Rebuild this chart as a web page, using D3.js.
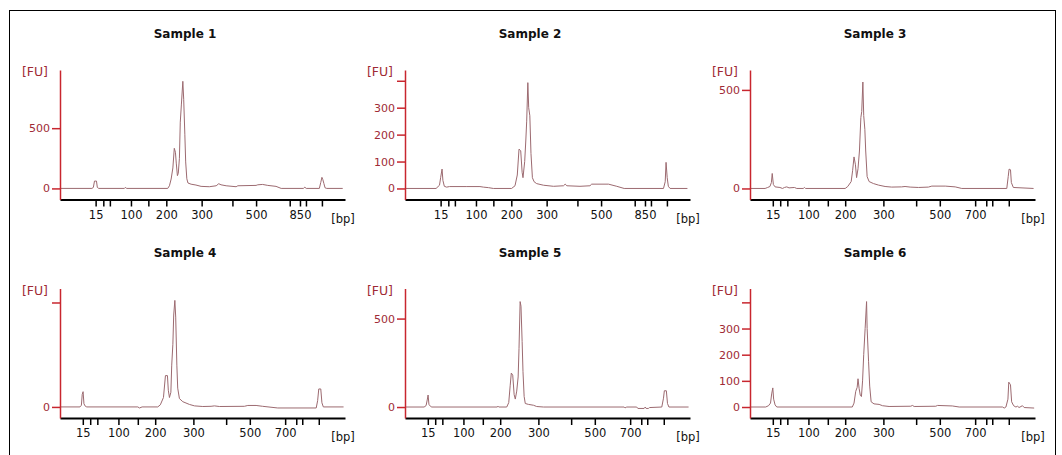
<!DOCTYPE html>
<html>
<head>
<meta charset="utf-8">
<script src="https://cdn.jsdelivr.net/npm/d3@7"></script>
<style>
  body { margin: 0; background: #fff; }
  svg { display: block; font-family: "DejaVu Sans", Verdana, sans-serif; }
</style>
</head>
<body>
<div id="chart"></div>
<script>
// ladder (bp) and where each ladder band runs on the chip, in seconds
const ladderSizes = [15, 25, 50, 100, 150, 200, 300, 400, 500, 700, 850, 1000, 1500];
const ladderTimesA = [32.5, 35.2, 37.5, 44.9, 51.0, 57.3, 69.7, 80.5, 88.8, 100.6, 104.2, 106.3, 111.9]; // samples 1-2
const ladderTimesB = [28.0, 30.6, 33.1, 40.5, 47.3, 53.4, 66.8, 78.3, 86.6, 99.0, 102.9, 105.0, 110.8]; // samples 3-6
const bpLabelsA = [15, 100, 200, 300, 500, 850];
const bpLabelsB = [15, 100, 200, 300, 500, 700];

const sampleNames = ["Sample 1", "Sample 2", "Sample 3", "Sample 4", "Sample 5", "Sample 6"];

// FU axis ticks, which ones get a label, and the visible FU range
const fuTicks = [[0, 500], [0, 100, 200, 300, 400], [0, 500], [0, 500], [0, 500], [0, 100, 200, 300, 400]];
const fuLabelled = [[0, 500], [0, 100, 200, 300], [0, 500], [0], [0, 500], [0, 100, 200, 300]];
const fuRanges = [[-92, 983], [-41, 440], [-56, 601], [-53, 567], [-62, 670], [-42, 453]];

// electropherograms: [time (s), FU]
const trace1 = [[20,0],[31.2,0],[31.7,8],[32.1,61],[32.8,61],[33.1,8],[33.6,0],[42.6,0],[42.9,8],[43.4,0],
  [57.8,0],[58.4,22],[59.0,78],[59.6,170],[60.1,333],[60.5,300],[60.8,210],[61.2,106],[61.5,125],[61.9,250],
  [62.2,550],[62.6,700],[63.1,889],[63.4,740],[63.8,450],[64.1,220],[64.5,80],[64.9,45],[66.0,35],[67.7,28],
  [69.5,17],[72.4,14],[74.8,22],[75.7,39],[76.5,30],[78.3,22],[81.8,14],[82.4,22],[88.8,25],[89.4,30],
  [91.1,33],[92.9,25],[95.8,17],[97.6,0],[105.4,0],[105.9,10],[106.4,0],[111.0,0],[111.5,50],[111.9,92],
  [112.2,75],[112.6,40],[113.0,5],[113.6,0],[119.2,0]];
const trace2 = [[20,0],[30.9,0],[32.1,12],[32.5,40],[33.0,72],[33.3,30],[33.8,8],[34.6,5],[35.6,7],[41.7,7],
  [46.3,7],[47.5,5],[49.3,3],[51.0,0],[57.4,0],[58.6,10],[59.4,50],[60.0,146],[60.6,140],[61.1,60],[61.4,40],
  [62.0,100],[62.4,180],[62.7,250],[63.1,393],[63.4,300],[63.8,270],[64.2,130],[64.7,40],[65.3,25],[66.2,18],
  [68.6,12],[72.1,8],[75.6,10],[76.2,16],[76.8,10],[81.4,8],[84.9,10],[85.5,16],[91.4,16],[94.3,8],[96.9,0],
  [110.7,0],[111.3,25],[111.6,97],[112.0,40],[112.4,8],[113.0,0],[119.1,0]];
const trace3 = [[20,0],[25.3,0],[26.2,5],[27.0,10],[27.5,30],[27.8,76],[28.2,20],[28.8,8],[30.5,5],[31.4,0],
  [32.1,5],[32.9,8],[33.7,3],[35.6,5],[36.4,0],[38.7,0],[39.1,5],[39.5,0],[53.4,0],[54.3,10],[55.5,35],
  [56.0,90],[56.5,160],[57.0,120],[57.4,55],[57.9,100],[58.4,190],[58.9,360],[59.2,390],[59.6,540],[59.9,370],
  [60.3,300],[60.6,190],[61.1,60],[61.8,35],[63.3,25],[65.1,17],[67.4,10],[69.7,7],[73.2,8],[74.4,10],[76.2,7],
  [79.1,5],[82.6,7],[83.8,12],[88.5,12],[92.0,8],[94.3,0],[110.1,0],[110.6,60],[110.9,98],[111.4,95],
  [111.7,30],[112.4,5],[119.5,0]];
const trace4 = [[20,0],[27.0,0],[27.5,8],[27.8,60],[28.1,73],[28.4,15],[28.9,3],[29.4,0],[47.3,0],[47.9,-5],
  [48.8,0],[54.3,0],[55.2,10],[56.3,45],[57.0,150],[57.7,150],[58.0,80],[58.4,45],[58.9,70],[59.2,200],
  [59.6,300],[59.9,440],[60.3,510],[60.6,430],[61.0,200],[61.3,90],[61.9,40],[63.1,25],[65.4,12],[67.2,5],
  [70.1,2],[73.0,3],[74.2,5],[75.9,2],[84.7,3],[85.9,7],[88.8,7],[91.1,3],[96.4,-5],[109.9,-5],[110.4,30],
  [110.8,86],[111.5,86],[111.9,20],[112.4,0],[119.5,0]];
const trace5 = [[20,0],[26.7,0],[27.4,8],[27.8,40],[28.1,68],[28.4,15],[29.0,3],[29.4,0],[52.4,0],[52.6,5],
  [52.9,0],[55.7,0],[56.4,25],[56.9,120],[57.3,192],[57.8,180],[58.3,70],[58.7,45],[59.2,90],[59.7,170],
  [60.0,330],[60.4,596],[60.7,570],[61.1,370],[61.4,200],[61.8,60],[62.2,20],[63.3,15],[65.1,10],[66.2,3],
  [68.6,0],[96.9,0],[97.2,-5],[97.8,0],[101.3,0],[101.7,-8],[103.9,-8],[104.3,0],[104.6,-8],[105.4,-8],
  [105.8,-3],[110.1,0],[110.7,50],[111.0,92],[111.7,92],[112.1,20],[112.6,0],[119.5,0]];
const trace6 = [[20,0],[25.5,0],[26.5,5],[27.2,15],[27.6,50],[28.0,73],[28.3,30],[28.8,8],[29.4,0],[55.9,0],
  [56.5,15],[57.1,60],[57.6,75],[57.9,108],[58.3,70],[58.7,45],[59.1,40],[59.5,100],[59.9,200],[60.4,300],
  [60.9,403],[61.1,300],[61.6,175],[62.0,80],[62.5,20],[63.5,12],[65.3,10],[66.5,5],[68.8,2],[76.4,3],
  [77.0,6],[77.6,2],[85.2,3],[85.8,6],[91.0,4],[93.4,0],[108.6,0],[109.2,-4],[109.8,0],[110.5,30],[110.8,95],
  [111.4,85],[111.8,20],[112.5,5],[113.3,0],[113.9,3],[114.4,-2],[115.6,5],[116.2,-2],[119.7,-4]];

const timeDomain = [20, 120];

// put the six panels together
const traces = [trace1, trace2, trace3, trace4, trace5, trace6];
const panels = sampleNames.map((name, i) => ({
    name: name,
    trace: traces[i],
    ladder: i < 2 ? ladderTimesA : ladderTimesB,
    bpLabels: i < 2 ? bpLabelsA : bpLabelsB,
    ticks: fuTicks[i],
    labelled: fuLabelled[i],
    range: fuRanges[i]
}));

const svgWidth = 1062;
const svgHeight = 455;
const plotWidth = 285;

const svg = d3.select("#chart")
    .append("svg")
    .attr("width", svgWidth)
    .attr("height", svgHeight);

svg.append("rect")
    .attr("x", 0).attr("y", 0)
    .attr("width", svgWidth).attr("height", svgHeight)
    .attr("fill", "#fff");

// outer frame
svg.append("rect")
    .attr("x", 9.5).attr("y", 10.5)
    .attr("width", 1046).attr("height", 470)
    .attr("fill", "none")
    .attr("stroke", "#000")
    .attr("stroke-width", 1);

const axisRed = "#c8262e";
const labelRed = "#a02a35";
const traceColor = "#9c6a70";

panels.forEach(function (p, i) {
    const col = i % 3;
    const row = Math.floor(i / 3);
    const left = 60 + col * 345;
    const top = 70 + row * 218.5;
    const bottom = top + 129.5;

    const g = svg.append("g");

    const x = d3.scaleLinear()
        .domain(timeDomain)
        .range([left, left + plotWidth]);

    const y = d3.scaleLinear()
        .domain(p.range)
        .range([bottom, top]);

    // title
    g.append("text")
        .text(p.name)
        .attr("x", left + 125)
        .attr("y", top - 32)
        .attr("text-anchor", "middle")
        .attr("font-size", "12px")
        .attr("font-weight", "bold")
        .attr("fill", "#111");

    // trace
    const line = d3.line()
        .x(d => x(d[0]))
        .y(d => y(d[1]));

    g.append("path")
        .datum(p.trace)
        .attr("d", line)
        .attr("fill", "none")
        .attr("stroke", traceColor)
        .attr("stroke-width", 1);

    // bp axis
    const xAxis = g.append("g")
        .attr("transform", `translate(0, ${bottom})`)
        .call(d3.axisBottom(x)
            .tickValues(p.ladder)
            .tickSize(7)
            .tickSizeOuter(0)
            .tickPadding(4)
            .tickFormat((d, k) => p.bpLabels.includes(ladderSizes[k]) ? ladderSizes[k] : ""));
    xAxis.select(".domain").attr("stroke", "#000").attr("stroke-width", 2);
    xAxis.selectAll(".tick line").attr("stroke", "#000").attr("stroke-width", 1.5);
    xAxis.selectAll(".tick text")
        .attr("font-size", "11.5px")
        .attr("font-family", "DejaVu Sans, Verdana, sans-serif")
        .attr("fill", "#111");

    g.append("text")
        .text("[bp]")
        .attr("x", left + plotWidth - 2)
        .attr("y", bottom + 23)
        .attr("text-anchor", "middle")
        .attr("font-size", "11.5px")
        .attr("fill", "#111");

    // FU axis
    const yAxis = g.append("g")
        .attr("transform", `translate(${left}, 0)`)
        .call(d3.axisLeft(y)
            .tickValues(p.ticks)
            .tickSize(8)
            .tickSizeOuter(0)
            .tickPadding(2)
            .tickFormat(d => p.labelled.includes(d) ? d : ""));
    yAxis.select(".domain").attr("stroke", axisRed).attr("stroke-width", 1.5);
    yAxis.selectAll(".tick line").attr("stroke", axisRed).attr("stroke-width", 1.5);
    yAxis.selectAll(".tick text")
        .attr("font-size", "11px")
        .attr("font-family", "DejaVu Sans, Verdana, sans-serif")
        .attr("fill", labelRed);

    g.append("text")
        .text("[FU]")
        .attr("x", left - 12)
        .attr("y", top + 6)
        .attr("text-anchor", "end")
        .attr("font-size", "12.5px")
        .attr("fill", labelRed);
});
</script>
</body>
</html>
